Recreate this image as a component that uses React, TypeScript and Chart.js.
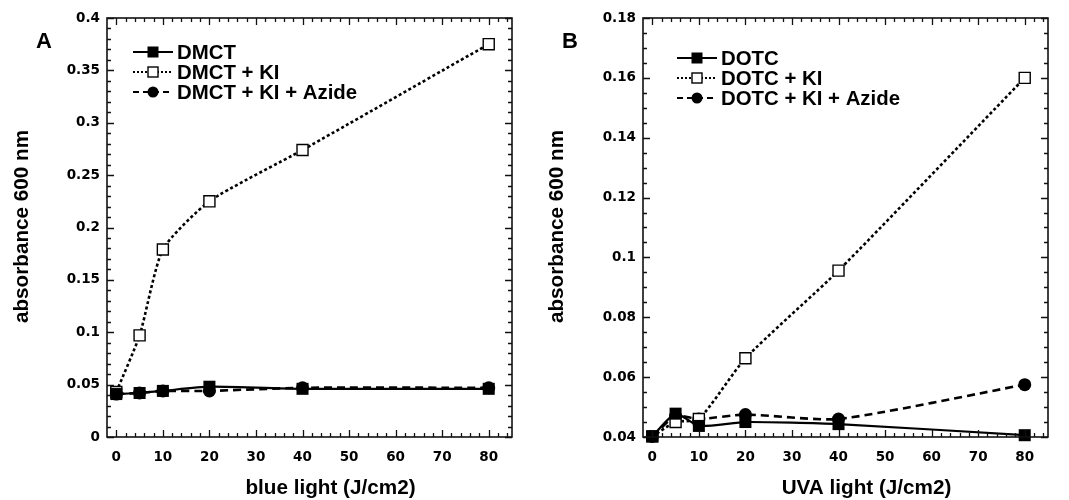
import React, { useEffect, useRef } from 'react';
import { Chart, registerables } from 'chart.js';

Chart.register(...registerables);

// ---------- data ----------
const doses = [0, 5, 10, 20, 40, 80];

const labelsA = ['DMCT', 'DMCT + KI', 'DMCT + KI + Azide'];
const dmct = [0.041, 0.042, 0.044, 0.048, 0.046, 0.046];
const dmctKI = [0.043, 0.097, 0.179, 0.225, 0.274, 0.375];
const dmctAzide = [0.041, 0.042, 0.044, 0.044, 0.047, 0.047];

const labelsB = ['DOTC', 'DOTC + KI', 'DOTC + KI + Azide'];
const dotc = [0.0402, 0.0478, 0.0437, 0.045, 0.0443, 0.0406];
const dotcKI = [0.0402, 0.045, 0.046, 0.0663, 0.0956, 0.16];
const dotcAzide = [0.0402, 0.047, 0.046, 0.0475, 0.046, 0.0575];

const xTicks = [0, 10, 20, 30, 40, 50, 60, 70, 80];
const yTicksA = [0, 0.05, 0.1, 0.15, 0.2, 0.25, 0.3, 0.35, 0.4];
const yTicksB = [0.04, 0.06, 0.08, 0.1, 0.12, 0.14, 0.16, 0.18];

const xTitleA = 'blue light (J/cm2)';
const xTitleB = 'UVA light (J/cm2)';
const yTitle = 'absorbance 600 nm';

// ---------- styles ----------
type Kind = 'fsq' | 'osq' | 'circ';
const seriesStyles: { kind: Kind; dash: number[]; width: number }[] = [
  { kind: 'fsq', dash: [], width: 2.2 },
  { kind: 'osq', dash: [3, 2.5], width: 2.6 },
  { kind: 'circ', dash: [8, 5], width: 2.6 },
];

const TICK_FONT = { family: '"DejaVu Sans", Verdana, sans-serif', size: 13.5, weight: 'bold' as const };
const TEXT_FAMILY = '"Liberation Sans", Arial, Helvetica, sans-serif';

function drawMarker(ctx: CanvasRenderingContext2D, kind: Kind, x: number, y: number, s: number) {
  ctx.save();
  ctx.setLineDash([]);
  if (kind === 'fsq') {
    ctx.fillStyle = '#000';
    ctx.fillRect(x - s / 2, y - s / 2, s, s);
  } else if (kind === 'osq') {
    ctx.fillStyle = '#fff';
    ctx.fillRect(x - s / 2, y - s / 2, s, s);
    ctx.strokeStyle = '#000';
    ctx.lineWidth = 1.4;
    ctx.strokeRect(x - s / 2, y - s / 2, s, s);
  } else {
    ctx.fillStyle = '#000';
    ctx.beginPath();
    ctx.arc(x, y, s / 2, 0, Math.PI * 2);
    ctx.fill();
  }
  ctx.restore();
}

interface PanelCfg {
  letter: string;
  letterX: number;
  labels: string[];
  series: number[][];
  yMin: number;
  yMax: number;
  yTicks: number[];
  yMinorStep: number;
  xTitle: string;
  yAxisWidth: number;
  padRight: number;
  legendX: number;
  legendY: number;
}

function makeChart(canvas: HTMLCanvasElement, cfg: PanelCfg) {
  const datasets = cfg.series.map((vals, i) => {
    const st = seriesStyles[i];
    const isRect = st.kind !== 'circ';
    return {
      label: cfg.labels[i],
      data: doses.map((d, j) => ({ x: d, y: vals[j] })),
      borderColor: '#000',
      borderWidth: st.width,
      borderDash: st.dash,
      backgroundColor: '#000',
      pointStyle: isRect ? 'rect' : 'circle',
      pointRadius: st.kind === 'fsq' ? 8.5 : st.kind === 'osq' ? 7.8 : 6.5,
      pointBackgroundColor: st.kind === 'osq' ? '#fff' : '#000',
      pointBorderColor: '#000',
      pointBorderWidth: st.kind === 'osq' ? 1.4 : 0,
      tension: 0.2,
      clip: false as any,
      fill: false,
    };
  });

  const framePlugin = {
    id: 'frameAndDecor',
    afterDraw(chart: any) {
      const ctx: CanvasRenderingContext2D = chart.ctx;
      const { left, right, top, bottom } = chart.chartArea;
      const xs = chart.scales.x;
      const ys = chart.scales.y;
      ctx.save();
      ctx.strokeStyle = '#111';
      ctx.lineWidth = 1.6;
      ctx.setLineDash([]);
      ctx.strokeRect(left, top, right - left, bottom - top);
      ctx.lineWidth = 1.3;
      ctx.beginPath();
      // x ticks (top & bottom, inward)
      for (let v = 0; v <= 84; v += 2) {
        const px = Math.round(xs.getPixelForValue(v)) + 0.5;
        const len = v % 10 === 0 ? 7 : 4;
        ctx.moveTo(px, bottom);
        ctx.lineTo(px, bottom - len);
        ctx.moveTo(px, top);
        ctx.lineTo(px, top + len);
      }
      // y ticks (left & right, inward)
      const nMinor = Math.round((cfg.yMax - cfg.yMin) / cfg.yMinorStep);
      const majorEvery = Math.round((cfg.yTicks[1] - cfg.yTicks[0]) / cfg.yMinorStep);
      for (let k = 0; k <= nMinor; k++) {
        const v = cfg.yMin + k * cfg.yMinorStep;
        const py = Math.round(ys.getPixelForValue(v)) + 0.5;
        const len = k % majorEvery === 0 ? 7 : 4;
        ctx.moveTo(left, py);
        ctx.lineTo(left + len, py);
        ctx.moveTo(right, py);
        ctx.lineTo(right - len, py);
      }
      ctx.stroke();

      // panel letter
      ctx.fillStyle = '#000';
      ctx.font = `bold 22px ${TEXT_FAMILY}`;
      ctx.textAlign = 'center';
      ctx.textBaseline = 'alphabetic';
      ctx.fillText(cfg.letter, cfg.letterX, 48);

      // axis titles
      ctx.font = `bold 20.7px ${TEXT_FAMILY}`;
      ctx.textBaseline = 'middle';
      ctx.fillText(cfg.xTitle, (left + right) / 2 + 21, 488);
      ctx.save();
      ctx.translate(22, (top + bottom) / 2 - 1);
      ctx.rotate(-Math.PI / 2);
      ctx.fillText(yTitle, 0, 0);
      ctx.restore();

      // legend
      ctx.font = `bold 20.4px ${TEXT_FAMILY}`;
      ctx.textAlign = 'left';
      ctx.textBaseline = 'middle';
      cfg.labels.forEach((lab, i) => {
        const st = seriesStyles[i];
        const y = cfg.legendY + i * 20;
        const x0 = cfg.legendX;
        ctx.save();
        ctx.strokeStyle = '#000';
        ctx.lineWidth = 2.2;
        ctx.setLineDash(st.kind === 'osq' ? [2, 2] : st.kind === 'circ' ? [6, 4] : []);
        ctx.beginPath();
        ctx.moveTo(x0, y);
        ctx.lineTo(x0 + 40, y);
        ctx.stroke();
        ctx.restore();
        drawMarker(ctx, st.kind, x0 + 20, y, st.kind === 'circ' ? 11 : st.kind === 'osq' ? 10 : 11);
        ctx.fillStyle = '#000';
        ctx.fillText(lab, x0 + 44, y + 1);
      });
      ctx.restore();
    },
  };

  return new Chart(canvas, {
    type: 'line',
    data: { datasets: datasets as any },
    options: {
      animation: false,
      responsive: false,
      maintainAspectRatio: false,
      layout: { padding: { left: 0, top: 18, right: cfg.padRight, bottom: 0 } },
      plugins: { legend: { display: false }, tooltip: { enabled: false } },
      scales: {
        x: {
          type: 'linear',
          min: -2,
          max: 85,
          afterBuildTicks: (s: any) => {
            s.ticks = xTicks.map((v) => ({ value: v }));
          },
          afterFit: (s: any) => {
            s.height = 63;
          },
          grid: { display: false, drawTicks: false },
          border: { display: false },
          ticks: {
            color: '#000',
            font: TICK_FONT,
            padding: 12,
            maxRotation: 0,
            autoSkip: false,
            callback: (v: any) => String(v),
          },
        },
        y: {
          type: 'linear',
          min: cfg.yMin,
          max: cfg.yMax,
          afterBuildTicks: (s: any) => {
            s.ticks = cfg.yTicks.map((v) => ({ value: v }));
          },
          afterFit: (s: any) => {
            s.width = cfg.yAxisWidth;
          },
          grid: { display: false, drawTicks: false },
          border: { display: false },
          ticks: {
            color: '#000',
            font: TICK_FONT,
            padding: 7,
            autoSkip: false,
            callback: (v: any) => String(v),
          },
        },
      },
    },
    plugins: [framePlugin],
  } as any);
}

function Panel({ cfg, left, width }: { cfg: PanelCfg; left: number; width: number }) {
  const ref = useRef<HTMLCanvasElement | null>(null);
  useEffect(() => {
    if (!ref.current) return;
    const chart = makeChart(ref.current, cfg);
    return () => chart.destroy();
  }, []);
  return (
    <canvas
      ref={ref}
      width={width}
      height={500}
      style={{ position: 'absolute', left, top: 0, width, height: 500, display: 'block' }}
    />
  );
}

const cfgA: PanelCfg = {
  letter: 'A',
  letterX: 44,
  labels: labelsA,
  series: [dmct, dmctKI, dmctAzide],
  yMin: 0,
  yMax: 0.4,
  yTicks: yTicksA,
  yMinorStep: 0.01,
  xTitle: xTitleA,
  yAxisWidth: 107,
  padRight: 23,
  legendX: 133,
  legendY: 52,
};

const cfgB: PanelCfg = {
  letter: 'B',
  letterX: 35,
  labels: labelsB,
  series: [dotc, dotcKI, dotcAzide],
  yMin: 0.04,
  yMax: 0.18,
  yTicks: yTicksB,
  yMinorStep: 0.005,
  xTitle: xTitleB,
  yAxisWidth: 108,
  padRight: 21,
  legendX: 142,
  legendY: 58,
};

export default function App() {
  return (
    <div style={{ position: 'absolute', left: 0, top: 0, width: 1069, height: 500, background: '#fff', overflow: 'hidden' }}>
      <Panel cfg={cfgA} left={0} width={535} />
      <Panel cfg={cfgB} left={535} width={534} />
    </div>
  );
}
